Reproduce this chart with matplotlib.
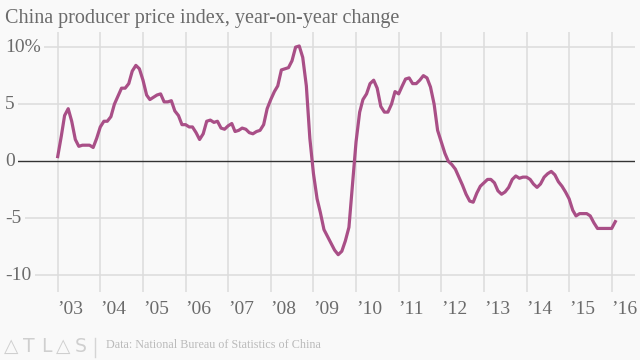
import matplotlib
matplotlib.use("Agg")
import matplotlib.pyplot as plt
import matplotlib.dates as mdates
import pandas as pd

# monthly PPI, year-on-year % change, as plotted (first point at Jan 2003)
start_month = "2003-01"
ppi = [
    0.4, 2.2, 4.0, 4.6, 3.5, 1.9, 1.3, 1.4, 1.4, 1.4, 1.2, 2.0,
    3.0, 3.5, 3.5, 3.9, 5.0, 5.7, 6.4, 6.4, 6.8, 7.9, 8.4, 8.1,
    7.1, 5.8, 5.4, 5.6, 5.8, 5.9, 5.2, 5.2, 5.3, 4.4, 4.0, 3.2,
    3.2, 3.0, 3.0, 2.5, 1.9, 2.4, 3.5, 3.6, 3.4, 3.5, 2.9, 2.8,
    3.1, 3.3, 2.6, 2.7, 2.9, 2.8, 2.5, 2.4, 2.6, 2.7, 3.2, 4.6,
    5.4, 6.1, 6.6, 8.0, 8.1, 8.2, 8.8, 10.0, 10.1, 9.1, 6.6, 2.0,
    -1.1, -3.3, -4.5, -6.0, -6.6, -7.2, -7.8, -8.2, -7.9, -7.0, -5.8, -2.1,
    1.7, 4.3, 5.4, 5.9, 6.8, 7.1, 6.4, 4.8, 4.3, 4.3, 5.0, 6.1,
    5.9, 6.6, 7.2, 7.3, 6.8, 6.8, 7.1, 7.5, 7.3, 6.5, 5.0, 2.7,
    1.7, 0.7, 0.0, -0.3, -0.7, -1.4, -2.1, -2.9, -3.5, -3.6, -2.8, -2.2,
    -1.9, -1.6, -1.6, -1.9, -2.6, -2.9, -2.7, -2.3, -1.6, -1.3, -1.5, -1.4,
    -1.4, -1.6, -2.0, -2.3, -2.0, -1.4, -1.1, -0.9, -1.2, -1.8, -2.2, -2.7,
    -3.3, -4.3, -4.8, -4.6, -4.6, -4.6, -4.8, -5.4, -5.9, -5.9, -5.9, -5.9,
    -5.9, -5.3,
]
years = list(range(2003, 2017))
year_labels = ["\u2019%02d" % (y % 100) for y in years]
y_ticks = [10, 5, 0, -5, -10]
y_labels = ["10%", "5", "0", "-5", "-10"]

title = "China producer price index, year-on-year change"
source = "Data: National Bureau of Statistics of China"
logo = ["\u25b3", "T", "L", "\u25b3", "S"]

BG = "#f9f9f9"
LINE = "#a94f87"
GRID = "#dcdcdc"
TEXT = "#6b6b6b"
SERIF = ["Liberation Serif", "DejaVu Serif"]

dates = pd.date_range(start_month, periods=len(ppi), freq="MS")

W, H = 640, 360
fig = plt.figure(figsize=(6.4, 3.6), dpi=100, facecolor=BG)
left_px, right_px, top_px, bot_px = 5, 635, 32.3, 292.3
ax = fig.add_axes([left_px / W, 1 - bot_px / H,
                   (right_px - left_px) / W, (bot_px - top_px) / H])
ax.set_facecolor(BG)
for s in ax.spines.values():
    s.set_visible(False)

# x range: first January gridline at 57.7px, last at 611.7px
d0 = mdates.date2num(pd.Timestamp("2003-01-01"))
d1 = mdates.date2num(pd.Timestamp("2016-01-01"))
scale = (611.7 - 57.7) / (d1 - d0)
ax.set_xlim(d0 - (57.7 - left_px) / scale, d1 + (right_px - 611.7) / scale)
ax.set_ylim(-11.5, 11.3)
ax.set_xticks([])
ax.set_yticks([])

for y in years:
    ax.axvline(mdates.date2num(pd.Timestamp(f"{y}-01-01")), color=GRID,
               lw=1.1, zorder=1)
for v in y_ticks:
    if v == 0:
        ax.axhline(0, color="#333333", lw=1.0, zorder=2)
    else:
        ax.axhline(v, color=GRID, lw=1.1, zorder=1)

ax.plot(dates, ppi, color=LINE, lw=2.3, zorder=3, solid_joinstyle="round")

xl = ax.get_xlim()[0]
for v, lab in zip(y_ticks, y_labels):
    ax.text(xl, v, lab, ha="left", va="center", fontsize=14, color=TEXT,
            family=SERIF, zorder=4,
            bbox=dict(facecolor=BG, edgecolor="none", pad=2.5))

for y, lab in zip(years, year_labels):
    ax.text(mdates.date2num(pd.Timestamp(f"{y}-01-01")), -13.0, lab,
            ha="left", va="center", fontsize=14, color=TEXT,
            family=SERIF, clip_on=False)

fig.text(5 / W, 1 - 23.5 / H, title, ha="left", va="baseline",
         fontsize=14.5, color=TEXT, family=SERIF)

# spaced-out logo letters
for i, ch in enumerate(logo):
    fig.text((11.5 + i * 17.2) / W, 1 - 346 / H, ch, ha="center",
             va="center", fontsize=13.5, color="#cfcfcf",
             family=["DejaVu Sans", "Noto Sans CJK SC"])
fig.add_artist(plt.Line2D([94.5 / W, 94.5 / W], [1 - 338 / H, 1 - 357 / H],
                          color="#d5d5d5", lw=1))
fig.text(106 / W, 1 - 348.5 / H, source, ha="left", va="baseline",
         fontsize=8.7, color="#bbbbbb", family=SERIF)

fig.savefig("out.png", dpi=100, facecolor=BG)
